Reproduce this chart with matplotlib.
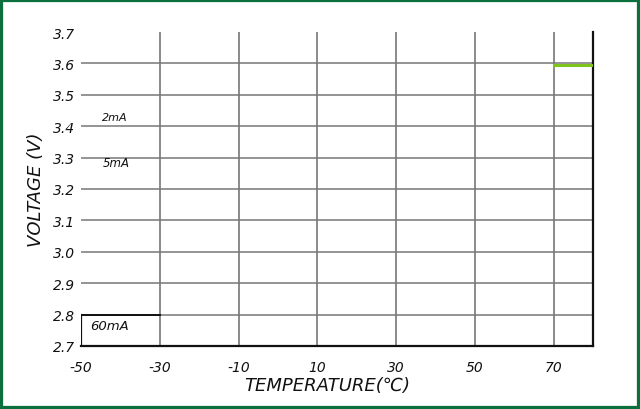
import matplotlib.pyplot as plt
from matplotlib.patches import Rectangle

temp_ticks = [-50, -30, -10, 10, 30, 50, 70]
volt_ticks = [2.7, 2.8, 2.9, 3.0, 3.1, 3.2, 3.3, 3.4, 3.5, 3.6, 3.7]
volt_labels = ['2.7', '2.8', '2.9', '3.0', '3.1', '3.2', '3.3', '3.4', '3.5', '3.6', '3.7']

# curve visible in the reference (only the 2mA trace shows, at the top right)
curve_temp = [70, 80]
curve_volt = [3.595, 3.595]

current_names = ['2mA', '5mA', '60mA']
current_temp = [-44.8, -44.6, -47.6]
current_volt = [3.43, 3.285, 2.765]
current_size = [8, 8.5, 9.5]

plt.rcParams['font.family'] = ['DejaVu Sans']

fig = plt.figure(figsize=(6.4, 4.1), dpi=100)
ax = fig.add_axes([0.1266, 0.1537, 0.8, 0.7658])
ax.set_xlim(-50, 80)
ax.set_ylim(2.7, 3.7)

grid = '#777777'
for t in temp_ticks[1:]:
    ax.plot([t, t], [2.7, 3.7], color=grid, lw=1.2, zorder=1)
for v in volt_ticks[1:-1]:
    ax.plot([-50, 80], [v, v], color=grid, lw=1.1, zorder=1)

# little black box at bottom-left around the 60mA label
ax.plot([-50, -30], [2.8, 2.8], color='#111111', lw=1.4, zorder=2)
ax.plot([-50, -50], [2.7, 2.8], color='#111111', lw=1.6, zorder=2)

ax.plot(curve_temp, curve_volt, color='#7fc31c', lw=2.2, zorder=3)

for name, t, v, s in zip(current_names, current_temp, current_volt, current_size):
    ax.text(t, v, name, fontsize=s, style='italic', va='center', ha='left', color='#111111')

for side in ['top', 'left']:
    ax.spines[side].set_visible(False)
for side in ['bottom', 'right']:
    ax.spines[side].set_color('#111111')
    ax.spines[side].set_linewidth(1.6)

ax.set_xticks(temp_ticks)
ax.set_xticklabels([str(t) for t in temp_ticks], fontsize=10, style='italic')
ax.set_yticks(volt_ticks)
ax.set_yticklabels(volt_labels, fontsize=10, style='italic')
ax.tick_params(axis='both', length=0, colors='#111111')
ax.tick_params(axis='x', pad=10)
ax.tick_params(axis='y', pad=4)

ax.set_xlabel('TEMPERATURE(℃)', fontsize=13, style='italic', labelpad=2, color='#111111')
ax.set_ylabel('VOLTAGE (V)', fontsize=13, style='italic', labelpad=6, color='#111111')
ax.xaxis.set_label_coords(0.48, -0.095)

fig.patches.append(Rectangle((0, 0), 1, 1, transform=fig.transFigure, fill=False,
                             edgecolor='#0b6e3d', lw=4.5, zorder=10))

fig.savefig('out.png', dpi=100)
